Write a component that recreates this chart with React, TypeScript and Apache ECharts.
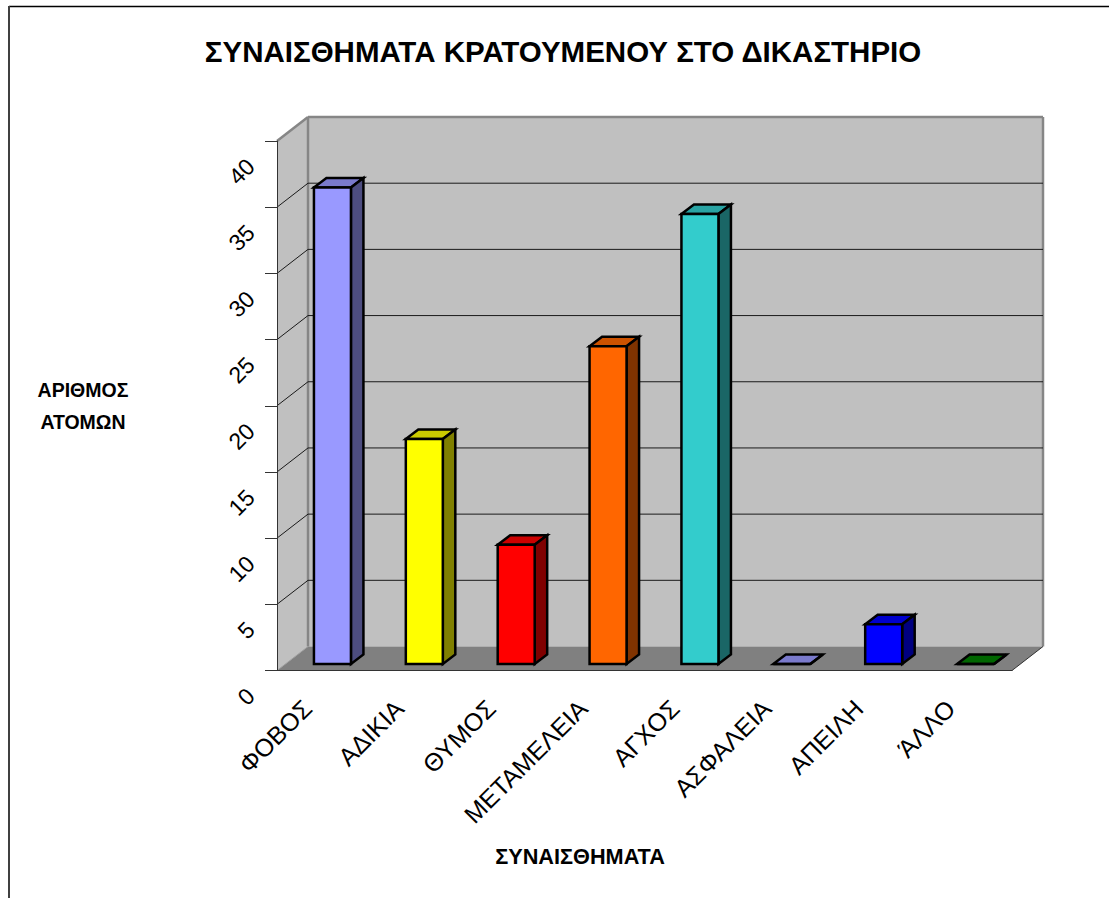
import React, { useEffect, useRef } from "react";
import * as echarts from "echarts";

const FONT = "Liberation Sans, Arial, sans-serif";
const categories = ["ΦΟΒΟΣ", "ΑΔΙΚΙΑ", "ΘΥΜΟΣ", "ΜΕΤΑΜΕΛΕΙΑ", "ΑΓΧΟΣ", "ΑΣΦΑΛΕΙΑ", "ΑΠΕΙΛΗ", "ΆΛΛΟ"];
const values = [36, 17, 9, 24, 34, 0, 3, 0];
const gridValues = [5, 10, 15, 20, 25, 30, 35];
const frontColors = ["#9999FF", "#FFFF00", "#FF0000", "#FF6600", "#33CCCC", "#9999FF", "#0000FF", "#008000"];
const topColors = ["#7A7ACC", "#CCCC00", "#CC0000", "#CC5200", "#29A3A3", "#7A7ACC", "#0000CC", "#006600"];
const sideColors = ["#4D4D80", "#808000", "#800000", "#803300", "#1A6666", "#4D4D80", "#000080", "#004000"];

const DX = 31;
const DY = -24;
const BAR_SHIFT_X = -9;
const BAR_SHIFT_Y = -6.5;
const BAR_W = 37;
const BAR_DX = 12.5;
const BAR_DY = -9.5;

const wallGray = "#C0C0C0";
const floorGray = "#808080";
const edgeGray = "#868686";

export default function App() {
  const ref = useRef<HTMLDivElement>(null);
  useEffect(() => {
    const chart = echarts.init(ref.current!, null, { renderer: "svg" });
    chart.setOption({
      animation: false,
      backgroundColor: "#fff",
      title: {
        text: "ΣΥΝΑΙΣΘΗΜΑΤΑ ΚΡΑΤΟΥΜΕΝΟΥ ΣΤΟ ΔΙΚΑΣΤΗΡΙΟ",
        left: 558,
        top: 31,
        textAlign: "center",
        textStyle: { fontFamily: FONT, fontSize: 29.5, fontWeight: "bold", color: "#000" },
      },
      grid: { left: 277, top: 141, width: 735, height: 529.5 },
      xAxis: {
        type: "category",
        data: categories,
        z: 1,
        name: "ΣΥΝΑΙΣΘΗΜΑΤΑ",
        nameLocation: "middle",
        nameGap: 175,
        nameTextStyle: {
          fontFamily: FONT, fontSize: 21.7, fontWeight: "bold", color: "#000",
          padding: [0, 129, 0, 0],
        },
        axisLine: { lineStyle: { color: "#333", width: 1 } },
        axisTick: { length: 12, lineStyle: { color: "#333", width: 1 } },
        axisLabel: {
          interval: 0,
          rotate: 45,
          margin: 18,
          fontFamily: FONT,
          fontSize: 25,
          color: "#000",
          align: "right",
          verticalAlign: "middle",
          padding: [0, 22, 0, 0],
        },
      },
      yAxis: {
        type: "value",
        min: 0,
        max: 40,
        interval: 5,
        z: 1,
        name: "ΑΡΙΘΜΟΣ\nΑΤΟΜΩΝ",
        nameLocation: "middle",
        nameGap: 194,
        nameRotate: 0,
        nameTextStyle: {
          fontFamily: FONT, fontSize: 19.5, fontWeight: "bold", color: "#000", lineHeight: 32,
          align: "center", verticalAlign: "middle",
        },
        splitLine: { show: false },
        axisLine: { show: true, lineStyle: { color: "#333", width: 1 } },
        axisTick: { show: true, length: 12, lineStyle: { color: "#333", width: 1 } },
        axisLabel: {
          rotate: 45,
          margin: 21,
          fontFamily: FONT,
          fontSize: 23,
          color: "#000",
          align: "right",
          verticalAlign: "top",
          padding: [0, 19, 0, 0],
        },
      },
      graphic: [
        { type: "line", shape: { x1: 9, y1: 6.5, x2: 1109, y2: 6.5 }, style: { stroke: "#000", lineWidth: 1.5 } },
        { type: "line", shape: { x1: 9, y1: 6, x2: 9, y2: 898 }, style: { stroke: "#404040", lineWidth: 2 } },
      ],
      series: [
        {
          type: "custom",
          name: "walls",
          z: 0,
          silent: true,
          clip: false,
          data: [[0, 40]],
          renderItem: (params: any, api: any) => {
            const cs = params.coordSys;
            const x0 = cs.x, x1 = cs.x + cs.width, yTop = api.coord([0, 40])[1], yBot = api.coord([0, 0])[1];
            const poly = (points: number[][], fill: string) => ({
              type: "polygon", shape: { points }, style: { fill, stroke: null },
            });
            const edge = (a: number[], b: number[]) => ({
              type: "line",
              shape: { x1: a[0], y1: a[1], x2: b[0], y2: b[1] },
              style: { stroke: edgeGray, lineWidth: 2.5 },
            });
            return {
              type: "group",
              children: [
                poly([[x0 + DX, yTop + DY], [x1 + DX, yTop + DY], [x1 + DX, yBot + DY], [x0 + DX, yBot + DY]], wallGray),
                poly([[x0, yTop], [x0 + DX, yTop + DY], [x0 + DX, yBot + DY], [x0, yBot]], wallGray),
                poly([[x0, yBot], [x0 + DX, yBot + DY], [x1 + DX, yBot + DY], [x1, yBot]], floorGray),
                edge([x0, yTop], [x0 + DX, yTop + DY]),
                edge([x0 + DX, yTop + DY], [x1 + DX, yTop + DY]),
                edge([x1 + DX, yTop + DY], [x1 + DX, yBot + DY]),
                edge([x0 + DX, yTop + DY], [x0 + DX, yBot + DY]),
                {
                  type: "line",
                  shape: { x1: x1, y1: yBot, x2: x1 + DX, y2: yBot + DY },
                  style: { stroke: "#333", lineWidth: 1 },
                },
                {
                  type: "line",
                  shape: { x1: x0, y1: yBot, x2: x0 + DX, y2: yBot + DY },
                  style: { stroke: "#A0A0A0", lineWidth: 1 },
                },
              ],
            };
          },
        },
        {
          type: "custom",
          name: "gridlines",
          z: 0.5,
          silent: true,
          clip: false,
          data: gridValues.map((v) => [0, v]),
          renderItem: (params: any, api: any) => {
            const cs = params.coordSys;
            const y = api.coord([0, api.value(1)])[1];
            const x0 = cs.x, x1 = cs.x + cs.width;
            return {
              type: "polyline",
              shape: { points: [[x0, y], [x0 + DX, y + DY], [x1 + DX, y + DY]] },
              style: { stroke: "#1a1a1a", lineWidth: 1, fill: null },
            };
          },
        },
        {
          type: "custom",
          name: "ΣΥΝΑΙΣΘΗΜΑΤΑ",
          z: 3,
          clip: false,
          data: values.map((v, i) => [i, v]),
          renderItem: (params: any, api: any) => {
            const i = api.value(0);
            const cx = api.coord([i, 0])[0];
            const l = cx + BAR_SHIFT_X, r = l + BAR_W;
            const b = api.coord([i, 0])[1] + BAR_SHIFT_Y;
            const t = api.coord([i, api.value(1)])[1] + BAR_SHIFT_Y;
            const face = (points: number[][], fill: string) => ({
              type: "polygon",
              shape: { points },
              style: { fill, stroke: "#000", lineWidth: 2.5, lineJoin: "miter" },
            });
            return {
              type: "group",
              children: [
                face([[l, t], [l + BAR_DX, t + BAR_DY], [r + BAR_DX, t + BAR_DY], [r, t]], topColors[i]),
                face([[r, t], [r + BAR_DX, t + BAR_DY], [r + BAR_DX, b + BAR_DY], [r, b]], sideColors[i]),
                face([[l, t], [r, t], [r, b], [l, b]], frontColors[i]),
              ],
            };
          },
        },
      ],
    });
    return () => chart.dispose();
  }, []);
  return (
    <div
      ref={ref}
      style={{ position: "fixed", left: 0, top: 0, width: 1109, height: 898, background: "#fff" }}
    />
  );
}
